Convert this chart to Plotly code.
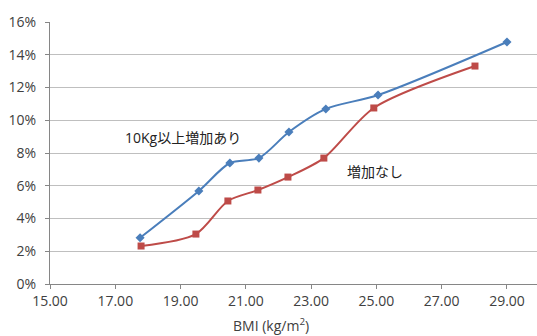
import plotly.graph_objects as go

# BMI vs incidence, two groups
bmi_gain = [17.76, 19.56, 20.51, 21.40, 22.32, 23.45, 25.05, 29.00]
rate_gain = [0.0282, 0.0568, 0.0739, 0.0769, 0.0928, 0.1069, 0.1154, 0.1478]

bmi_nogain = [17.79, 19.47, 20.45, 21.37, 22.29, 23.39, 24.92, 28.02]
rate_nogain = [0.0232, 0.0305, 0.0507, 0.0574, 0.0653, 0.0769, 0.1075, 0.1331]

x_ticks = [15, 17, 19, 21, 23, 25, 27, 29]
y_ticks = [0, 0.02, 0.04, 0.06, 0.08, 0.10, 0.12, 0.14, 0.16]

label_gain = "10Kg以上増加あり"
label_nogain = "増加なし"
x_title = "BMI (kg/m<sup>2</sup>)"

FONT = "Open Sans, Noto Sans CJK JP, sans-serif"
BLUE = "#4A7EBB"
RED = "#BE4B48"
GRID = "#BFBFBF"
TXT = "#404040"

fig = go.Figure()
fig.add_trace(go.Scatter(
    x=bmi_gain, y=rate_gain, mode="lines+markers", name=label_gain,
    line=dict(color=BLUE, width=2, shape="spline", smoothing=0.8),
    marker=dict(symbol="diamond", size=7, color=BLUE),
))
fig.add_trace(go.Scatter(
    x=bmi_nogain, y=rate_nogain, mode="lines+markers", name=label_nogain,
    line=dict(color=RED, width=2, shape="spline", smoothing=0.8),
    marker=dict(symbol="square", size=7, color=RED),
))

fig.add_annotation(x=19.07, y=0.0897, text=label_gain, showarrow=False,
                   font=dict(family=FONT, size=14, color="#222222"))
fig.add_annotation(x=24.95, y=0.0687, text=label_nogain, showarrow=False,
                   font=dict(family=FONT, size=14, color="#222222"))

# axis title placed a little left of the plot centre
fig.add_annotation(x=271, y=12, xref="paper", yref="paper",
                   text=x_title, showarrow=False,
                   font=dict(family=FONT, size=14, color=TXT))

fig.update_layout(
    width=537, height=336,
    margin=dict(l=50, r=0, t=22, b=52),
    paper_bgcolor="white", plot_bgcolor="white",
    showlegend=False,
    font=dict(family=FONT, size=14, color=TXT),
    xaxis=dict(
        range=[15, 29.92], tickvals=x_ticks,
        ticktext=[f"{v:.2f}" for v in x_ticks],
        showgrid=False, zeroline=False,
        showline=True, linecolor="#868686", linewidth=1,
        ticks="outside", ticklen=4, tickcolor="#868686",
        tickfont=dict(size=14, color=TXT),
    ),
    yaxis=dict(
        range=[0, 0.16], tickvals=y_ticks, tickformat=".0%",
        showgrid=True, gridcolor=GRID, gridwidth=1, zeroline=False,
        showline=True, linecolor="#868686", linewidth=1,
        ticks="outside", ticklen=4, tickcolor="#868686",
        ticklabelstandoff=6,
        tickfont=dict(size=14, color=TXT),
    ),
)

# convert the title position from pixels to paper fractions
ann = fig.layout.annotations[-1]
ann.x = (271 - 50) / (537 - 50)
ann.y = -(325 - 284) / (284 - 22)
ann.yanchor = "middle"

fig.write_html("out.html")
